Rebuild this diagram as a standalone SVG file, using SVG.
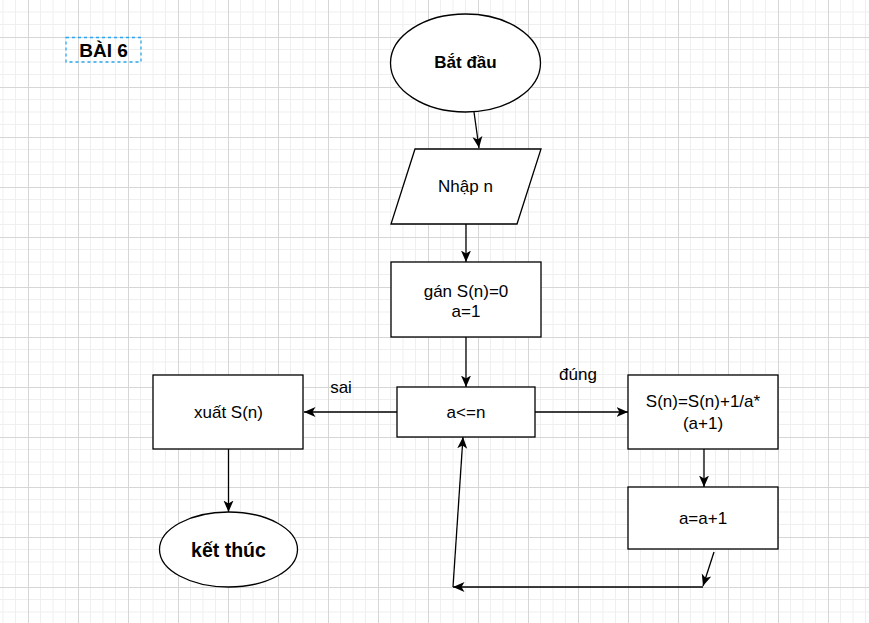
<svg xmlns="http://www.w3.org/2000/svg" width="869" height="623" viewBox="0 0 869 623">
  <defs>
    <pattern id="grid" x="28" y="37" width="50" height="50" patternUnits="userSpaceOnUse">
      <path d="M12.5 0V50M25 0V50M37.5 0V50M0 12.5H50M0 25H50M0 37.5H50" stroke="#efefef" stroke-width="1" fill="none"/>
      <path d="M0.5 0V50M0 0.5H50" stroke="#d6d6d6" stroke-width="1" fill="none"/>
    </pattern>
    <marker id="arrow" markerUnits="userSpaceOnUse" markerWidth="12" markerHeight="11" viewBox="0 0 12 11" refX="11.5" refY="5.5" orient="auto">
      <path d="M0 0.5 L11.5 5.5 L0 10.5 L3 5.5 Z" fill="#000"/>
    </marker>
  </defs>
  <style>
    .shape { fill: #fff; stroke: #000; stroke-width: 1.3; }
    .edge { fill: none; stroke: #000; stroke-width: 1.3; marker-end: url(#arrow); }
    .t { font-family: "Liberation Sans", Arial, sans-serif; font-size: 17px; fill: #000; text-anchor: middle; }
    .b { font-weight: bold; }
  </style>

  <rect width="869" height="623" fill="#fff"/>
  <rect width="869" height="623" fill="url(#grid)"/>

  <g id="title">
    <rect x="66" y="37.5" width="75" height="24.5" fill="none" stroke="#29a8f0" stroke-width="1.3" stroke-dasharray="3 3"/>
    <text class="t b" x="103.5" y="57" style="font-size:19px">BÀI 6</text>
  </g>

  <g id="connectors">
    <line class="edge" x1="474" y1="112" x2="479" y2="148"/>
    <line class="edge" x1="466" y1="224" x2="466" y2="262"/>
    <line class="edge" x1="466" y1="337" x2="466" y2="387"/>
    <line class="edge" x1="397" y1="412" x2="304" y2="412"/>
    <line class="edge" x1="535" y1="412" x2="628" y2="412"/>
    <line class="edge" x1="704" y1="449" x2="704" y2="487"/>
    <line class="edge" x1="714" y1="552" x2="703" y2="586"/>
    <line class="edge" x1="703" y1="587" x2="453" y2="587"/>
    <line class="edge" x1="453" y1="587" x2="463" y2="437"/>
    <line class="edge" x1="228.5" y1="449" x2="228.5" y2="512"/>
    <text class="t" x="341" y="393">sai</text>
    <text class="t" x="578" y="380">đúng</text>
  </g>

  <g id="start">
    <ellipse class="shape" cx="465.5" cy="63" rx="75" ry="49"/>
    <text class="t b" x="465.5" y="68">Bắt đầu</text>
  </g>

  <g id="input">
    <polygon class="shape" points="415,149 541,149 517,224 391,224"/>
    <text class="t" x="465.5" y="192">Nhập n</text>
  </g>

  <g id="init">
    <rect class="shape" x="391" y="262" width="150" height="75"/>
    <text class="t" x="466" y="297">gán S(n)=0</text>
    <text class="t" x="466" y="317">a=1</text>
  </g>

  <g id="condition">
    <rect class="shape" x="397" y="387" width="138" height="50"/>
    <text class="t" x="466" y="418">a&lt;=n</text>
  </g>

  <g id="output">
    <rect class="shape" x="153" y="375" width="150" height="74"/>
    <text class="t" x="228.5" y="418">xuất S(n)</text>
  </g>

  <g id="sum">
    <rect class="shape" x="628" y="375" width="150" height="74"/>
    <text class="t" x="703" y="407">S(n)=S(n)+1/a*</text>
    <text class="t" x="703" y="429">(a+1)</text>
  </g>

  <g id="increment">
    <rect class="shape" x="628" y="487" width="150" height="62"/>
    <text class="t" x="703" y="524">a=a+1</text>
  </g>

  <g id="end">
    <ellipse class="shape" cx="228.5" cy="549.5" rx="69" ry="37.5"/>
    <text class="t b" x="228.5" y="557" style="font-size:19.5px">kết thúc</text>
  </g>
</svg>
